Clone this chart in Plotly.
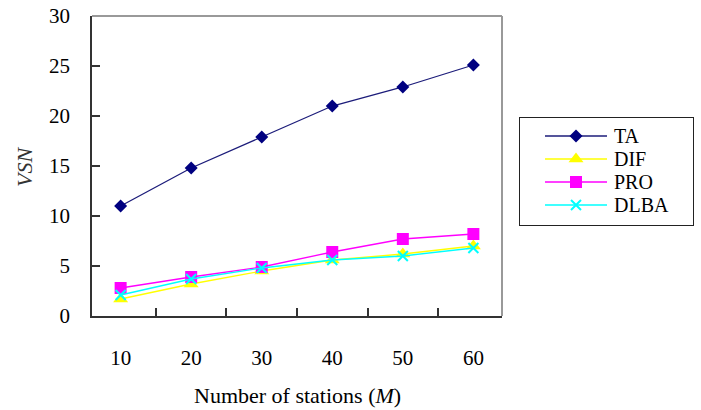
import plotly.graph_objects as go

# ---- data ----
stations = ["10", "20", "30", "40", "50", "60"]
ta = [11.0, 14.8, 17.9, 21.0, 22.9, 25.1]
dif = [1.7, 3.2, 4.5, 5.6, 6.2, 7.0]
pro = [2.8, 3.9, 4.9, 6.4, 7.7, 8.2]
dlba = [2.1, 3.7, 4.8, 5.6, 6.0, 6.8]
series_names = ["TA", "DIF", "PRO", "DLBA"]
y_ticks = [0, 5, 10, 15, 20, 25, 30]

# ---- styles ----
W, H = 701, 410
FONT = "Liberation Serif"
styles = {
    "TA":   dict(line="#1c1c7a", marker=dict(symbol="diamond", size=10, color="#000080")),
    "DIF":  dict(line="#ffff00", marker=dict(symbol="triangle-up", size=13, color="#ffff00")),
    "PRO":  dict(line="#ff00ff", marker=dict(symbol="square", size=12, color="#ff00ff")),
    "DLBA": dict(line="#00ffff", marker=dict(symbol="x-thin", size=10, color="#00ffff",
                                            line=dict(color="#00ffff", width=2))),
}
values = {"TA": ta, "DIF": dif, "PRO": pro, "DLBA": dlba}

# plot area in pixels
PL, PR, PT, PB = 92, 502, 16, 316
# legend box in pixels
LL, LR, LT, LB = 519, 694, 117, 226

fig = go.Figure()

for name in series_names:
    st = styles[name]
    fig.add_trace(go.Scatter(
        x=stations, y=values[name], name=name, mode="lines+markers",
        line=dict(color=st["line"], width=1.3), marker=st["marker"],
        showlegend=False, xaxis="x", yaxis="y",
    ))

# hand-drawn legend on a pixel-scaled helper axis
row0, row_step = 136, 23
seg_l, seg_r = 545, 607
for i, name in enumerate(series_names):
    st = styles[name]
    yy = row0 + i * row_step
    fig.add_trace(go.Scatter(
        x=[seg_l, seg_r], y=[yy, yy], mode="lines",
        line=dict(color=st["line"], width=1.5),
        showlegend=False, xaxis="x2", yaxis="y2", hoverinfo="skip",
    ))
    fig.add_trace(go.Scatter(
        x=[(seg_l + seg_r) / 2], y=[yy], mode="markers", marker=st["marker"],
        showlegend=False, xaxis="x2", yaxis="y2", hoverinfo="skip",
    ))
    fig.add_annotation(
        x=612, y=yy, xref="x2", yref="y2", text=name, showarrow=False,
        xanchor="left", yanchor="middle", font=dict(family=FONT, size=20, color="black"),
    )

fig.add_shape(type="rect", xref="x2", yref="y2", x0=LL, x1=LR, y0=LT, y1=LB,
              line=dict(color="#222222", width=2), fillcolor="rgba(0,0,0,0)")

# gray top and right frame lines
fig.add_shape(type="line", xref="x domain", yref="y domain", x0=0, x1=1, y0=1, y1=1,
              line=dict(color="#999999", width=2), layer="below")
fig.add_shape(type="line", xref="x domain", yref="y domain", x0=1, x1=1, y0=0, y1=1,
              line=dict(color="#999999", width=2), layer="below")

# axis titles
fig.add_annotation(x=(PL + PR) / 2 / W, y=1 - 395 / H, xref="paper", yref="paper",
                   xanchor="center", yanchor="middle",
                   text="Number of stations (<i>M</i>)", showarrow=False,
                   font=dict(family=FONT, size=22, color="black"))
fig.add_annotation(x=25 / W, y=1 - 167 / H, xref="paper", yref="paper",
                   xanchor="center", yanchor="middle",
                   text="<i>VSN</i>", showarrow=False, textangle=-90,
                   font=dict(family=FONT, size=22, color="#333333"))

fig.update_layout(
    width=W, height=H,
    margin=dict(l=0, r=0, t=0, b=0, autoexpand=False),
    paper_bgcolor="white", plot_bgcolor="white",
    font=dict(family=FONT, size=21, color="black"),
    xaxis=dict(
        domain=[PL / W, PR / W], type="category", tickson="boundaries",
        ticks="inside", ticklen=8, tickwidth=1.5, tickcolor="#333333",
        showline=True, linecolor="#333333", linewidth=1.5, automargin=False,
        showgrid=False, zeroline=False, ticklabelstandoff=22,
        tickfont=dict(family=FONT, size=21, color="black"),
    ),
    yaxis=dict(
        domain=[1 - PB / H, 1 - PT / H], range=[0, 30], tickvals=y_ticks,
        ticks="inside", ticklen=8, tickwidth=1.5, tickcolor="#333333",
        showline=True, linecolor="#333333", linewidth=1.5, automargin=False,
        showgrid=False, zeroline=False, ticklabelstandoff=16,
        tickfont=dict(family=FONT, size=21, color="black"),
    ),
    xaxis2=dict(domain=[LL / W, LR / W], range=[LL, LR], visible=False,
                fixedrange=True, automargin=False),
    yaxis2=dict(domain=[1 - LB / H, 1 - LT / H], range=[LB, LT], visible=False,
                fixedrange=True, automargin=False),
    showlegend=False,
)

fig.write_html("out.html")
